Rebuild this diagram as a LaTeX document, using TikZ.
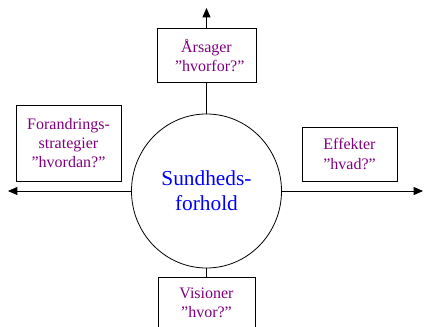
\documentclass[tikz,border=0pt]{standalone}
\usepackage{fontspec}
\setmainfont{Liberation Serif}
\usetikzlibrary{arrows.meta,shapes.geometric}
\definecolor{txtpurple}{RGB}{128,0,128}
\definecolor{txtblue}{RGB}{0,0,255}
\tikzset{
  qbox/.style={draw, line width=0.6pt, inner sep=0pt, align=center, text=txtpurple,
    font=\fontsize{12}{14.5}\selectfont},
  conn/.style={line width=0.6pt},
  arr/.style={conn, -{Triangle[length=7pt,width=6pt]}}
}
\begin{document}
\begin{tikzpicture}[x=0.75pt,y=-0.75pt]
\useasboundingbox (0,0) rectangle (424,327);
\clip (0,0) rectangle (424,327);
\node[draw, ellipse, line width=0.6pt, inner sep=0pt,
  minimum width=112.5pt, minimum height=115.5pt, align=center, text=txtblue,
  font=\fontsize{16}{19}\selectfont] (c) at (206.5,191) {Sundheds-\\forhold};
\node[qbox, minimum width=74.25pt, minimum height=40.5pt] (top) at (206.5,55.5) {Årsager\\\hspace*{0.4em}”hvorfor?”};
\node[qbox, minimum width=78.75pt, minimum height=57pt] (left) at (68.5,143) {Forandrings-\\strategier\\”hvordan?”};
\node[qbox, minimum width=71.25pt, minimum height=40.5pt] (right) at (349.5,154) {Effekter\\”hvad?”};
\node[qbox, minimum width=72.75pt, minimum height=49.5pt, anchor=north] (bot) at (206.5,277) {};
\node[text=txtpurple, font=\fontsize{12}{14.5}\selectfont, align=center, anchor=north] (bottxt) at (206.5,283) {Visioner\\”hvor?”};
\coordinate (tipT) at (206.5,8);
\coordinate (tipL) at (8,191);
\coordinate (tipR) at (423,191);
\draw[conn] (c.north) -- (top.south);
\draw[arr] (top.north) -- (tipT);
\draw[arr] (c.west) -- (tipL);
\draw[arr] (c.east) -- (tipR);
\draw[conn] (c.south) -- (bot.north);
\end{tikzpicture}
\end{document}
